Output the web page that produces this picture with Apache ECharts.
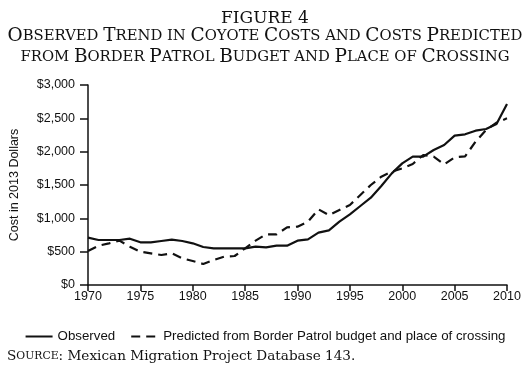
<!DOCTYPE html>
<html>
<head>
<meta charset="utf-8">
<script src="https://cdn.jsdelivr.net/npm/echarts@6/dist/echarts.min.js"></script>
<style>html,body{margin:0;padding:0;background:#fff}#c{width:530px;height:371px}</style>
</head>
<body>
<div id="c"></div>
<script>
const years = [];
for (let y = 1970; y <= 2010; y++) years.push(y);
const observed = [710,675,675,675,695,640,640,660,680,660,625,570,550,550,550,550,575,565,590,590,
  665,685,785,820,950,1060,1185,1310,1485,1675,1825,1925,1925,2025,2100,2240,2260,2315,2340,2415,2715];
const predicted = [510,590,625,665,575,500,475,450,475,400,360,315,375,425,435,550,665,760,760,865,
  875,950,1135,1050,1125,1200,1350,1500,1625,1700,1750,1815,1950,1925,1810,1915,1930,2150,2325,2435,2500];
const yTicks = [0,500,1000,1500,2000,2500,3000];
const xTicks = [1970,1975,1980,1985,1990,1995,2000,2005,2010];
const seriesNames = ['Observed','Predicted from Border Patrol budget and place of crossing'];

function smallCaps(str) {
  return str.split(' ').map(w => {
    const first = w[0];
    if (/[A-Z]/.test(first)) {
      return '{b|' + first + '}' + (w.length > 1 ? '{s|' + w.slice(1).toUpperCase() + '}' : '');
    }
    return '{s|' + w.toUpperCase() + '}';
  }).join('{s| }');
}
const serif = '"DejaVu Serif", serif';
const sans = '"Liberation Sans", Arial, sans-serif';
const richTitle = {
  b: {fontFamily: serif, fontSize: 18.5, fontWeight: 'normal', color: '#111'},
  s: {fontFamily: serif, fontSize: 14.8, fontWeight: 'normal', color: '#111'}
};

const chart = echarts.init(document.getElementById('c'), null, {renderer: 'canvas'});
chart.setOption({
  animation: false,
  backgroundColor: '#fff',
  title: [
    {text: 'FIGURE 4', left: 'center', top: 5,
     textStyle: {fontFamily: serif, fontSize: 17, fontWeight: 'normal', color: '#111'}},
    {text: smallCaps('Observed Trend in Coyote Costs and Costs Predicted'), left: 'center', top: 22,
     textStyle: {fontWeight: 'normal', rich: richTitle}},
    {text: smallCaps('from Border Patrol Budget and Place of Crossing'), left: 'center', top: 43,
     textStyle: {fontWeight: 'normal', rich: richTitle}},
    {text: '{b|S}{s|OURCE}{n|: Mexican Migration Project Database 143.}', left: 2, top: 344,
     textStyle: {fontWeight: 'normal', rich: {
       b: {fontFamily: serif, fontSize: 13.6, fontWeight: 'normal', color: '#111'},
       s: {fontFamily: serif, fontSize: 10.8, fontWeight: 'normal', color: '#111'},
       n: {fontFamily: serif, fontSize: 13.6, fontWeight: 'normal', color: '#111'}
     }}}
  ],
  grid: {left: 88, right: 23, top: 85, bottom: 86, containLabel: false},
  legend: {
    data: seriesNames, left: 'center', top: 325, itemWidth: 27, itemHeight: 14, itemGap: 15,
    itemStyle: {opacity: 0},
    textStyle: {fontFamily: sans, fontSize: 13.3, color: '#111'}
  },
  xAxis: {
    type: 'value', min: 1970, max: 2010, interval: 5,
    axisLine: {lineStyle: {color: '#111', width: 1.5}},
    axisTick: {length: 6, lineStyle: {color: '#111', width: 1.5}},
    axisLabel: {margin: 5, color: '#111', fontFamily: sans, fontSize: 12.5,
      formatter: v => xTicks.includes(v) ? String(v) : ''},
    splitLine: {show: false}
  },
  yAxis: {
    type: 'value', min: 0, max: 3000, interval: 500,
    name: 'Cost in 2013 Dollars', nameLocation: 'middle', nameGap: 67,
    nameTextStyle: {fontFamily: sans, fontSize: 12.5, color: '#111'},
    axisLine: {show: true, lineStyle: {color: '#111', width: 1.5}},
    axisTick: {show: true, length: 8, lineStyle: {color: '#111', width: 1.5}},
    axisLabel: {margin: 13, color: '#111', fontFamily: sans, fontSize: 12.5,
      formatter: v => yTicks.includes(v) ? '$' + v.toLocaleString('en-US') : ''},
    splitLine: {show: false}
  },
  series: [
    {name: seriesNames[0], type: 'line', symbol: 'none',
     data: years.map((y, i) => [y, observed[i]]),
     lineStyle: {color: '#111', width: 2.2, type: 'solid'}, itemStyle: {color: '#111'}},
    {name: seriesNames[1], type: 'line', symbol: 'none',
     data: years.map((y, i) => [y, predicted[i]]),
     lineStyle: {color: '#111', width: 2.2, type: [9, 6]}, itemStyle: {color: '#111'}}
  ]
});
</script>
</body>
</html>
